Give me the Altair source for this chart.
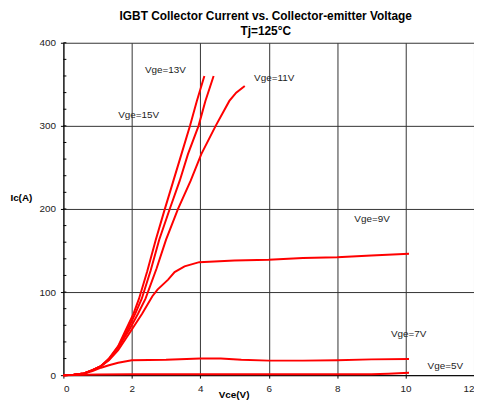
import altair as alt
import pandas as pd

# ---- data ----
vce_15 = [0, 0.3, 0.6, 0.85, 1.1, 1.33, 1.6, 1.83, 2.05, 2.21, 2.45, 2.7, 2.95, 3.2, 3.45, 3.7, 3.9, 4.12]
ic_15 = [0, 0.5, 2, 6, 11, 20, 35, 55, 74, 92, 125, 163, 198, 232, 266, 300, 330, 360]

vce_13 = [0, 0.3, 0.6, 0.85, 1.1, 1.33, 1.6, 1.88, 2.1, 2.29, 2.55, 2.8, 3.1, 3.4, 3.64, 3.95, 4.15, 4.39]
ic_13 = [0, 0.5, 2, 6, 11, 19, 34, 55, 74, 92, 126, 163, 199, 234, 266, 300, 330, 360]

vce_11 = [0, 0.3, 0.6, 0.85, 1.1, 1.33, 1.6, 1.93, 2.18, 2.4, 2.72, 3.0, 3.35, 3.72, 4.03, 4.45, 4.85, 5.05, 5.3]
ic_11 = [0, 0.5, 2, 6, 11, 19, 33, 55, 74, 92, 128, 163, 200, 234, 266, 300, 330, 340, 348]

vce_9 = [0, 0.3, 0.6, 0.85, 1.1, 1.33, 1.6, 2.0, 2.3, 2.6, 2.75, 3.06, 3.25, 3.54, 3.97, 5, 6, 7, 8, 9, 10.1]
ic_9 = [0, 0.5, 2, 6, 11, 18, 30, 55, 74, 95, 103, 115, 124, 131, 136, 138, 139, 141, 142, 144, 146]

vce_7 = [0, 0.3, 0.6, 0.85, 1.1, 1.33, 1.6, 2.0, 3, 4, 4.6, 5.2, 6, 7, 8, 9, 10.1]
ic_7 = [0, 0.5, 2, 5, 9, 12, 15, 18, 18.5, 20, 20, 18.5, 17.5, 17.5, 18, 19, 19.5]

vce_5 = [0, 1, 2, 4, 6, 8, 9, 9.5, 10.1]
ic_5 = [0, 0.8, 1, 1, 1, 1, 1, 1.8, 2.8]

series_names = ["Vge=15V", "Vge=13V", "Vge=11V", "Vge=9V", "Vge=7V", "Vge=5V"]
series_vce = [vce_15, vce_13, vce_11, vce_9, vce_7, vce_5]
series_ic = [ic_15, ic_13, ic_11, ic_9, ic_7, ic_5]

label_text = ["Vge=13V", "Vge=15V", "Vge=11V", "Vge=9V", "Vge=7V", "Vge=5V"]
label_vce = [2.98, 2.2, 6.16, 9.02, 10.09, 11.16]
label_ic = [367, 313, 357, 188, 50, 11]

x_ticks = [0, 2, 4, 6, 8, 10, 12]
y_ticks = [0, 100, 200, 300, 400]
y_minor = list(range(0, 401, 20))

rows = []
for name, xs, ys in zip(series_names, series_vce, series_ic):
    for i, (a, b) in enumerate(zip(xs, ys)):
        rows.append({"series": name, "idx": i, "Vce": a, "Ic": b})
df = pd.DataFrame(rows)
labels_df = pd.DataFrame({"label": label_text, "Vce": label_vce, "Ic": label_ic})
minor_df = pd.DataFrame({"Ic": y_minor})

FONT = "Liberation Sans"

xscale = alt.Scale(domain=[0, 12], nice=False, zero=False)
yscale = alt.Scale(domain=[0, 400], nice=False, zero=False)

lines = alt.Chart(df).mark_line(color="#ff0000", strokeWidth=2).encode(
    x=alt.X("Vce:Q", scale=xscale,
            axis=alt.Axis(values=x_ticks, title="Vce(V)", grid=True, tickSize=3,
                          labelPadding=6, titleX=172, titleY=20,
                          titleBaseline="middle", titleAlign="center")),
    y=alt.Y("Ic:Q", scale=yscale,
            axis=alt.Axis(values=y_ticks, title="Ic(A)", grid=True, tickSize=3,
                          labelPadding=5, titleAngle=0, titleX=-43, titleY=156,
                          titleAlign="center", titleBaseline="middle")),
    detail="series:N",
    order="idx:Q",
)

minor = alt.Chart(minor_df).mark_rule(color="#000000", strokeWidth=1).encode(
    y=alt.Y("Ic:Q", scale=yscale),
    x=alt.value(0),
    x2=alt.value(3),
)

texts = alt.Chart(labels_df).mark_text(
    font=FONT, fontSize=10, color="#222222", align="center", baseline="middle"
).encode(
    x=alt.X("Vce:Q", scale=xscale),
    y=alt.Y("Ic:Q", scale=yscale),
    text="label:N",
)

chart = alt.layer(minor, lines, texts).properties(
    width=415,
    height=336,
    padding={"left": 56, "top": 33, "right": 0, "bottom": 25},
    autosize=alt.AutoSizeParams(type="none"),
    title=alt.Title(
        ["IGBT Collector Current vs. Collector-emitter Voltage", "Tj=125°C"],
        font=FONT, fontSize=12, fontWeight="bold", color="#000000",
        anchor="middle", offset=0, lineHeight=15, dx=-3,
    ),
).configure_axis(
    labelFont=FONT, labelFontSize=10, labelColor="#222222",
    titleFont=FONT, titleFontSize=10, titleFontWeight="bold", titleColor="#000000",
    domainColor="#000000", tickColor="#000000", gridColor="#333333", gridWidth=1,
    gridOpacity=1,
).configure_view(strokeWidth=0)

chart.save("out.html", embed_options={"renderer": "svg", "actions": False})
